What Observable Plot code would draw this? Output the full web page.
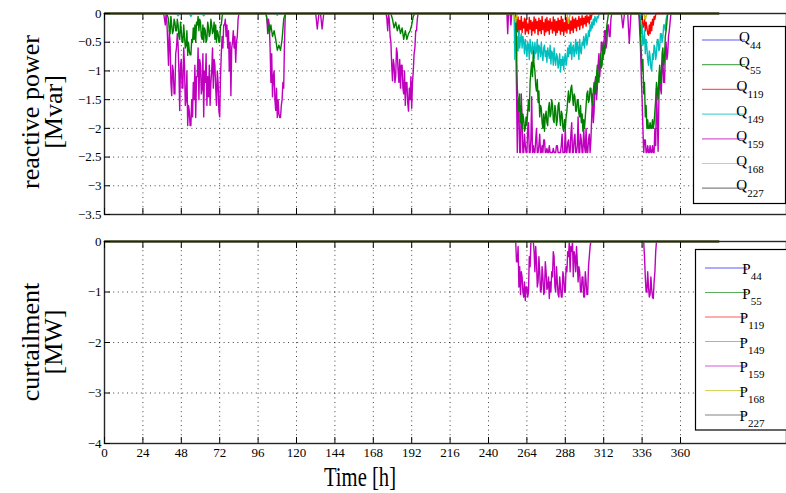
<!DOCTYPE html>
<html><head><meta charset="utf-8">
<script src="https://cdn.jsdelivr.net/npm/d3@7"></script>
<script src="https://cdn.jsdelivr.net/npm/@observablehq/plot@0.6"></script>
<style>
body{margin:0;background:#fff;color:#000;}
#wrap{position:relative;width:786px;height:493px;overflow:hidden;background:#fff;font-family:"Liberation Serif","Times New Roman",serif;}
#wrap svg{position:absolute;left:0;}
#wrap svg text{font-family:"Liberation Serif","Times New Roman",serif;}
</style></head><body><div id="wrap"></div>
<script>
// ---------- data (hours, reactive power in Mvar / curtailment in MW) ----------
const xTicks = [0,24,48,72,96,120,144,168,192,216,240,264,288,312,336,360];
const qYTicks = [0,-0.5,-1,-1.5,-2,-2.5,-3,-3.5];
const pYTicks = [0,-1,-2,-3,-4];
const busIds = ["44","55","119","149","159","168","227"];
const lineColors = ["#0000ff","#008000","#ff0000","#00bfbf","#bf00bf","#bfbf00","#404040"];
const timeEnd = 384;

// segments: [start hour, step (h), values...]
const Q44 = [];
const Q55 = [
  [39, 0.5, [0,-0.05,-0.1,-0.3,-0.35,-0.05,-0.2,-0.35,-0.3,-0.1,-0.15,-0.3,-0.3,-0.1,-0.2,-0.4,-0.45,-0.15,-0.3,-0.5,-0.5,-0.2,-0.4,-0.6,-0.55,-0.3,-0.73,-0.5,-0.65,-0.72,-0.72,-0.45,-0.5,-0.25,-0.45,-0.2,-0.5,-0.15,-0.2,-0.05,-0.3,-0.1,-0.15,-0.4,-0.45,-0.2,-0.5,-0.25,-0.3,-0.5,-0.45,-0.15,-0.25,-0.4,-0.35,-0.1,-0.2,-0.35,-0.3,-0.15,-0.45,-0.2,-0.5,-0.3,-0.35,-0.5,-0.5,-0.2,-0.2,-0.05,0]],
  [101, 1, [0,-0.2,-0.35,-0.2,-0.4,-0.3,-0.45,-0.64,-0.55,-0.64,-0.45,-0.1,0]],
  [179, 1, [0,-0.1,-0.25,-0.15,-0.3,-0.2,-0.35,-0.25,-0.45,-0.3,-0.45,-0.35,-0.3,-0.2,-0.05,0]],
  [257, 0.5, [0,-0.6,-1.3,-1.5,-1.7,-1.4,-1.9,-1.6,-2.0,-1.75,-1.85,-2.05,-2.0,-1.8,-1.95,-1.7,-1.5,-1.7,-1.2,-1.0,-0.85,-1.1,-0.65,-0.9,-1.0,-1.25,-1.35,-1.15,-1.55,-1.35,-1.8,-1.6,-1.65,-1.9,-2.0,-1.75,-2.05,-1.8,-1.7,-1.9,-1.95,-1.65,-1.55,-1.8,-1.75,-1.5,-1.6,-1.85,-1.9,-1.6,-1.7,-1.95,-1.85,-1.6,-1.55,-1.8,-1.95,-1.7,-1.75,-2.0,-2.05,-1.85,-2.0,-1.8,-1.7,-1.5,-1.35,-1.55,-1.5,-1.3,-1.25,-1.45,-1.6,-1.4,-1.45,-1.7,-1.7,-1.5,-1.5,-1.75,-1.8,-1.6,-1.9,-1.75,-2.05,-1.85,-2.0,-1.8,-1.6,-1.4,-1.35,-1.55,-1.5,-1.3,-1.3,-1.5,-1.6,-1.35,-1.2,-1.4,-1.4,-1.1,-0.9,-1.15,-1.2,-0.9,-0.7,-0.95,-0.9,-0.6,-0.5,-0.7,-0.6,-0.35,-0.2,-0.1,0]],
  [334, 0.5, [0,-0.1,-0.3,-0.7,-1.0,-0.8,-1.4,-1.2,-1.8,-1.6,-2.0,-1.85,-2.0,-2.0,-1.9,-2.0,-2.0,-1.85,-2.0,-1.9,-1.7,-1.5,-1.2,-1.35,-1.5,-1.1,-0.9,-1.2,-1.1,-0.7,-0.6,-0.9,-0.8,-0.4,-0.3,-0.15,0]]
];
const Q119 = [
  [256, 0.5, [0,-0.08,-0.3,-0.1,-0.32,-0.06,-0.35,-0.12,-0.28,-0.05,-0.33,-0.15,-0.25,-0.08,-0.36,-0.1,-0.3,-0.18,-0.35,-0.07,-0.27,-0.12,-0.38,-0.15,-0.3,-0.06,-0.34,-0.1,-0.26,-0.14,-0.37,-0.08,-0.3,-0.12,-0.35,-0.05,-0.28,-0.16,-0.38,-0.1,-0.32,-0.07,-0.3,-0.13,-0.36,-0.09,-0.27,-0.15,-0.34,-0.06,-0.3,-0.11,-0.38,-0.14,-0.33,-0.08,-0.29,-0.12,-0.36,-0.05,-0.31,-0.1,-0.38,-0.16,-0.3,-0.07,-0.34,-0.11,-0.27,-0.09,-0.35,-0.13,-0.29,-0.06,-0.33,-0.1,-0.25,-0.08,-0.3,-0.12,-0.22,-0.05,-0.28,-0.09,-0.2,-0.04,-0.25,-0.08,-0.18,-0.05,-0.22,-0.03,-0.15,-0.06,-0.18,-0.02,-0.1,-0.03,0]],
  [335, 0.5, [0,-0.1,-0.05,-0.25,-0.2,-0.1,-0.3,-0.15,-0.25,-0.35,-0.38,-0.2,-0.35,-0.15,-0.3,-0.1,-0.2,-0.05,-0.1,-0.02,0]]
];
const Q149 = [
  [45, 1, [0,-0.04,0]], [53, 1, [0,-0.05,0]], [61, 1, [0,-0.04,0]], [107, 1, [0,-0.03,0]],
  [256, 0.5, [0,-0.8,-0.3,-0.75,-0.4,-0.65,-0.3,-0.6,-0.45,-0.35,-0.6,-0.4,-0.5,-0.7,-0.45,-0.6,-0.75,-0.5,-0.55,-0.8,-0.45,-0.65,-0.7,-0.5,-0.6,-0.78,-0.5,-0.7,-0.65,-0.45,-0.8,-0.55,-0.6,-0.75,-0.5,-0.7,-0.82,-0.6,-0.55,-0.75,-0.65,-0.85,-0.6,-0.7,-0.78,-0.55,-0.88,-0.65,-0.7,-0.9,-0.6,-0.8,-0.9,-0.7,-0.75,-0.95,-0.85,-0.7,-1.02,-0.8,-0.9,-0.75,-0.98,-0.8,-0.7,-0.9,-0.8,-0.6,-0.75,-0.55,-0.7,-0.5,-0.8,-0.6,-0.55,-0.75,-0.65,-0.45,-0.7,-0.5,-0.6,-0.8,-0.45,-0.65,-0.7,-0.5,-0.55,-0.4,-0.6,-0.45,-0.35,-0.55,-0.45,-0.3,-0.4,-0.2,-0.3,-0.15,-0.25,-0.1,-0.2,-0.05,-0.1,-0.15,-0.05,-0.08,-0.02,0,0]],
  [335, 0.5, [0,-0.35,-0.2,-0.55,-0.5,-0.3,-0.7,-0.45,-0.6,-0.8,-0.9,-0.65,-0.75,-0.95,-1.0,-0.7,-0.8,-0.55,-0.6,-0.8,-0.7,-0.45,-0.45,-0.65,-0.6,-0.35,-0.35,-0.5,-0.4,-0.2,-0.2,-0.3,-0.1,-0.05,0]]
];
const Q159 = [
  [37, 0.5, [0,-0.1,-0.2,0,-0.15,-0.5,-0.9,-0.3,-0.5,-1.2,-1.43,-0.9,-1.0,-1.4,-1.4,-0.7,-0.6,-0.35,-0.55,-1.0,-1.69,-0.9,-0.8,-1.3,-1.3,-0.6,-0.9,-1.6,-1.5,-1.0,-1.95,-1.6,-1.7,-1.95,-1.95,-1.5,-1.8,-1.2,-1.5,-0.9,-1.81,-1.1,-1.1,-0.6,-1.5,-0.8,-0.9,-1.4,-1.3,-0.7,-1.8,-1.0,-1.2,-0.7,-1.6,-1.1,-1.45,-0.9,-1.6,-1.2,-1.0,-0.6,-1.3,-0.8,-0.9,-1.3,-1.6,-1.0,-1.2,-1.7,-1.8,-1.1,-0.7,-0.4,-0.6,-0.2,-0.2,-0.1,-0.4,-0.2,-0.6,-0.3,-1.0,-0.5,-1.43,-0.6,-0.5,-0.3,-0.6,-0.4,-0.85,-0.5,-0.4,-0.1,0]],
  [101, 0.5, [0,-0.1,-0.35,-0.1,-0.2,-0.6,-1.2,-0.7,-1.45,-1.1,-1.0,-1.5,-1.69,-1.3,-1.81,-1.5,-1.75,-1.81,-1.81,-1.6,-1.5,-1.2,-1.3,-0.5,0]],
  [132, 1, [0,-0.27,0,0,-0.27,0]],
  [176, 0.5, [0,-0.1,-0.3,0,-0.1,-0.4,-0.5,-0.9,-1.17,-0.8,-0.9,-1.2,-1.1,-0.6,-0.7,-1.0,-1.2,-0.8,-1.3,-0.9,-0.9,-1.3,-1.4,-1.0,-1.6,-1.2,-1.2,-1.55,-1.7,-1.3,-1.5,-1.1,-1.65,-1.2,-1.0,-0.7,-0.6,-0.3,-0.3,-0.1,0]],
  [251, 0.5, [0,0,-0.35,0,0,0,-0.2,0,0,0,0,0,-0.3,-1.3,-2.42,-1.5,-1.6,-2.42,-2.42,-1.4,-1.9,-2.42,-2.42,-2.1,-2.3,-2.42,-2.42,-2.0,-1.9,-2.42,-2.42,-2.2,-1.45,-2.42,-2.3,-2.42,-2.42,-2.2,-2.0,-2.42,-2.42,-2.3,-2.1,-2.42,-2.42,-2.3,-2.42,-2.2,-2.2,-2.42,-2.42,-2.35,-2.42,-2.42,-2.3,-2.42,-2.42,-2.42,-2.42,-2.35,-2.42,-2.42,-2.42,-2.3,-2.3,-2.42,-2.42,-2.42,-2.42,-2.3,-2.1,-2.42,-2.42,-2.42,-2.0,-2.42,-2.42,-2.25,-2.2,-2.42,-2.42,-2.1,-1.9,-2.42,-2.42,-2.2,-2.1,-2.42,-2.42,-2.3,-1.8,-2.42,-2.42,-2.1,-2.2,-2.42,-2.42,-2.0,-2.3,-2.42,-2.0,-2.42,-2.42,-2.2,-2.1,-2.42,-2.2,-1.8,-1.4,-1.9,-1.7,-1.2,-1.1,-1.5,-1.3,-0.9,-0.7,-1.1,-0.9,-0.5,-0.5,-0.8,-0.7,-0.3,-0.3,-0.6,-0.5,-0.2,-0.2,-0.4,-0.4,-0.1,0]],
  [323, 1, [0,-0.25,0,0,0,-0.52,0]],
  [334, 0.5, [0,-0.3,-0.6,-1.1,-1.5,-2.0,-2.42,-2.2,-2.2,-2.42,-2.42,-2.3,-2.42,-2.42,-2.3,-2.42,-2.42,-2.3,-2.42,-2.42,-2.0,-2.3,-1.3,-1.8,-2.4,-1.5,-1.0,-1.3,-1.4,-0.9,-0.8,-1.2,-1.2,-0.7,-0.5,-0.8,-0.7,-0.4,-0.3,-0.15,0]]
];
const Q168 = [[256, 1, [0,-0.15,0]], [289, 1, [0,-0.17,0]], [337, 1, [0,-0.1,0]]];
const Q227 = [];

const P44 = [], P55 = [], P119 = [], P149 = [], P168 = [], P227 = [];
const P159 = [
  [257, 0.5, [0,-0.4,-0.4,-0.1,-0.9,-0.5,-1.05,-0.6,-0.7,-1.0,-1.1,-0.8,-1.17,-0.9,-0.9,-1.1,-1.0,-0.3,-0.5,0,0,0,0,-0.2,-0.6,-0.1,-0.4,-0.9,-0.8,-0.3,-0.6,-1.0,-0.95,-0.5,-0.7,-1.05,-1.0,-0.4,-0.6,-0.95,-0.9,-0.7,-1.13,-0.8,-1.0,-0.6,-0.7,-0.2,-0.3,-0.9,-1.0,-0.5,-0.8,-1.05,-1.1,-0.7,-0.9,-1.1,-1.1,-0.6,-0.7,-1.0,-1.0,-0.5,-0.6,-0.2,-0.3,0,-0.6,-0.1,-0.2,0,-0.7,-0.2,-0.3,-0.6,-0.1,-0.4,-0.8,-0.5,-0.6,-1.0,-1.0,-0.7,-0.7,-1.1,-1.1,-0.6,-0.8,-1.05,-1.05,-0.5,-0.3,-0.1,0]],
  [337, 0.5, [0,-0.3,-0.7,-1.0,-1.0,-0.6,-0.9,-1.1,-1.05,-0.7,-0.95,-1.1,-1.13,-0.8,-0.6,-0.2,0]]
];

// ---------- build tables ----------
function expand(segs) {
  const pts = [];
  for (const [s, step, vals] of segs) vals.forEach((v, i) => pts.push({t: s + i * step, v}));
  const ranges = segs.map(([s, step, vals]) => [s, s + (vals.length - 1) * step]);
  for (let t = 0; t <= timeEnd; t++) if (!ranges.some(([a, b]) => t >= a && t <= b)) pts.push({t, v: 0});
  return pts.sort((a, b) => a.t - b.t);
}
const qData = [Q44, Q55, Q119, Q149, Q159, Q168, Q227].map(expand);
const pData = [P44, P55, P119, P149, P159, P168, P227].map(expand);
// drawing order (index into busIds); Q227/P227 last, lying on the zero line
const drawOrder = [0, 4, 2, 3, 1, 5, 6];

const FONT = "'Liberation Serif', 'Times New Roman', serif";
const xDomain = [0, 426.25];

function minusFmt(d) { return d === 0 ? "0" : (d < 0 ? "\u2212" : "") + Math.abs(d); }

function panel({data, yDomain, yTicks, height, marginBottom, xLabels}) {
  const marks = [
    Plot.gridX(xTicks, {stroke: "#000", strokeOpacity: 0.75, strokeDasharray: "1,3.6"}),
    Plot.gridY(yTicks, {stroke: "#000", strokeOpacity: 0.75, strokeDasharray: "1,3.6"}),
    ...drawOrder.map(i => Plot.line(data[i], {x: "t", y: "v", stroke: lineColors[i], strokeWidth: 1.4})),
    Plot.frame({stroke: "#262626", strokeWidth: 1.4}),
    Plot.axisX(xTicks, {anchor: "bottom", tickSize: -6, tickFormat: () => "", label: null}),
    Plot.axisX(xTicks, {anchor: "top", tickSize: -6, tickFormat: () => "", label: null}),
    Plot.axisY(yTicks, {anchor: "left", tickSize: -6, tickFormat: () => "", label: null}),
    Plot.axisY(yTicks, {anchor: "left", tickSize: 0, tickPadding: 3, tickFormat: minusFmt, label: null, fontSize: 13, fontFamily: FONT})
  ];
  if (xLabels) marks.push(Plot.axisX(xTicks, {anchor: "bottom", tickSize: 0, tickPadding: 4, tickFormat: d => String(d), label: null, fontSize: 13, fontFamily: FONT}));
  return Plot.plot({
    width: 786, height, marginLeft: 104, marginRight: 0, marginTop: 13, marginBottom,
    x: {domain: xDomain},
    y: {domain: yDomain},
    style: {fontFamily: FONT, fontSize: "13px", background: "white", color: "black", overflow: "visible"},
    marks
  });
}

function addLegend(svg, letter, box, rowY0, rowStep, lx1, lx2, tx, baseDy, subDy) {
  const g = svg.append("g");
  g.append("rect").attr("x", box.x).attr("y", box.y).attr("width", box.w).attr("height", box.h)
    .attr("fill", "white").attr("stroke", "#000").attr("stroke-width", 1.2);
  busIds.forEach((id, i) => {
    const y = rowY0 + i * rowStep;
    g.append("line").attr("x1", lx1).attr("x2", lx2).attr("y1", y).attr("y2", y)
      .attr("stroke", lineColors[i]).attr("stroke-width", 1.2).attr("stroke-opacity", 0.65);
    const t = g.append("text").attr("x", tx).attr("y", y + baseDy)
      .style("font-family", FONT).attr("font-size", 15).attr("fill", "#000").text(letter);
    t.append("tspan").attr("dy", subDy).attr("font-size", 11).text(id);
  });
}

function addYLabel(svg, lines, cy) {
  const xs = [39, 62];
  lines.forEach((s, i) => {
    svg.append("text").attr("transform", `translate(${xs[i]},${cy}) rotate(-90)`)
      .attr("text-anchor", "middle").style("font-family", FONT).attr("font-size", 26)
      .attr("fill", "#000").text(s);
  });
}

const wrapEl = document.getElementById("wrap");

const topChart = panel({data: qData, yDomain: [-3.5, 0], yTicks: qYTicks, height: 228, marginBottom: 14, xLabels: false});
topChart.style.top = "0px";
wrapEl.appendChild(topChart);
const s1 = d3.select(topChart);
addLegend(s1, "Q", {x: 693.5, y: 26.5, w: 92, h: 177}, 40, 24.7, 702, 745, 750, 2, 7);
addYLabel(s1, ["reactive power", "[Mvar]"], 112);

const botChart = panel({data: pData, yDomain: [-4, 0], yTicks: pYTicks, height: 265, marginBottom: 50, xLabels: true});
botChart.style.top = "228px";
wrapEl.appendChild(botChart);
const s2 = d3.select(botChart);
addLegend(s2, "P", {x: 695.5, y: 21.5, w: 95, h: 180.5}, 40, 24.5, 705, 747, 752, 6, 6);
addYLabel(s2, ["curtailment", "[MW]"], 114);
s2.append("text").attr("x", 360).attr("y", 258).attr("text-anchor", "middle")
  .style("font-family", FONT).attr("font-size", 27).attr("fill", "#000")
  .attr("textLength", 72).attr("lengthAdjust", "spacingAndGlyphs").text("Time [h]");
</script>
</body></html>
